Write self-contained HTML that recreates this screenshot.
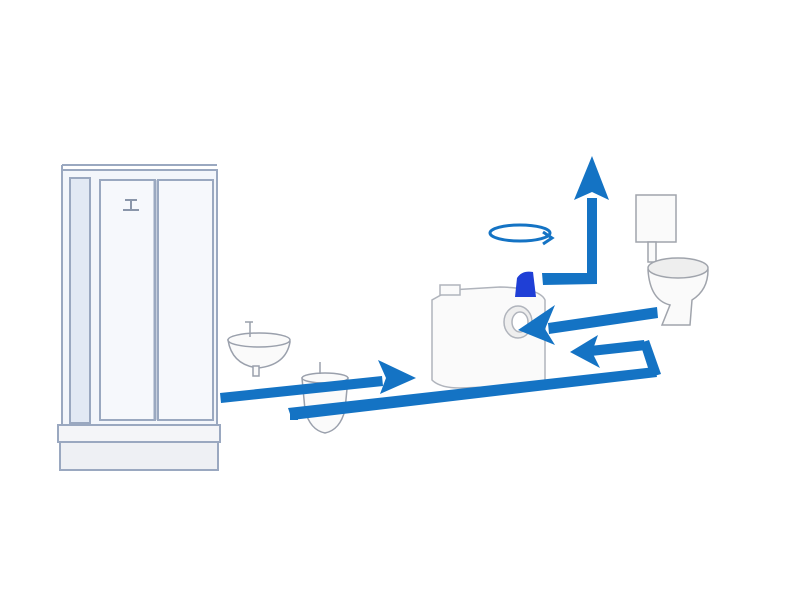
<!DOCTYPE html>
<html><head><style>body{margin:0;background:#fff}svg{display:block}</style></head><body>
<svg width="800" height="600" viewBox="0 0 800 600" xmlns="http://www.w3.org/2000/svg">
<rect width="800" height="600" fill="#fff"/>
<!-- shower -->
<g stroke="#9aa8c0" stroke-width="2" fill="none">
<path d="M60 440 L60 470 L218 470 L218 440 Z" fill="#eef0f4"/>
<path d="M58 425 L220 425 L220 442 L58 442 Z" fill="#f4f5f8"/>
<rect x="62" y="170" width="155" height="255" fill="#f3f6fb"/>
<rect x="70" y="178" width="20" height="245" fill="#e2e9f4"/>
<rect x="100" y="180" width="55" height="240" fill="#f6f8fc"/>
<rect x="158" y="180" width="55" height="240" fill="#f6f8fc"/>
<line x1="62" y1="165" x2="217" y2="165"/>
<line x1="62" y1="165" x2="62" y2="172"/>
<line x1="155" y1="180" x2="155" y2="420" stroke-width="3"/>
</g>
<path d="M125 200 h12 M131 200 v10 M123 210 h16" stroke="#8a96aa" stroke-width="2"/>
<!-- sink -->
<g stroke="#9aa0ac" stroke-width="1.5" fill="#fafafa">
<path d="M228 340 Q232 365 258 368 Q286 365 290 342 Z"/>
<ellipse cx="259" cy="340" rx="31" ry="7"/>
<path d="M250 322 v15 M245 322 h8"/>
<rect x="253" y="366" width="6" height="10"/>
</g>
<!-- bidet -->
<g stroke="#9aa0ac" stroke-width="1.5" fill="#fafafa">
<path d="M302 378 L348 378 L345 410 Q340 430 325 433 Q310 430 305 410 Z"/>
<ellipse cx="325" cy="378" rx="23" ry="5"/>
<path d="M320 362 v12"/>
</g>
<!-- macerator -->
<g stroke="#b0b4bc" stroke-width="1.5" fill="#fafafa">
<path d="M432 300 L432 380 Q440 388 460 388 L545 385 L545 300 Q540 288 500 287 L450 290 Z"/>
<rect x="440" y="285" width="20" height="10"/>
<ellipse cx="518" cy="322" rx="14" ry="16" fill="#eee"/>
<ellipse cx="520" cy="322" rx="8" ry="10" fill="#fff"/>
</g>
<path d="M515 297 L517 278 Q522 270 533 272 L536 297 Z" fill="#1f3fd6"/>
<!-- toilet -->
<g stroke="#a0a4ac" stroke-width="1.5" fill="#fafafa">
<rect x="636" y="195" width="40" height="47"/>
<rect x="648" y="242" width="8" height="20"/>
<path d="M648 270 Q650 300 670 305 L662 325 L690 325 L692 300 Q708 290 708 270 Z"/>
<ellipse cx="678" cy="268" rx="30" ry="10" fill="#eee"/>
</g>
<!-- arrows -->
<g fill="#1473c4" stroke="none">
<path d="M220 393 L382 376 L383 386 L221 403 Z"/>
<path d="M378 360 L416 378 L380 394 L386 378 Z"/>
<path d="M288 408 L655 367 L657 377 L292 420 Z"/>
<path d="M290 408 L298 408 L298 420 L290 420 Z"/>
<path d="M651 377 L640 343 L649 340 L661 374 Z"/>
<path d="M644 340 L590 346 L591 356 L646 350 Z"/>
<path d="M598 335 L570 352 L600 368 L592 352 Z"/>
<path d="M657 307 L548 323 L549 334 L658 318 Z"/>
<path d="M555 305 L518 330 L555 345 L545 329 Z"/>
<path d="M542 273 L597 273 L597 284 L543 285 Z"/>
<path d="M587 198 L597 198 L597 284 L587 284 Z"/>
<path d="M574 200 L592 156 L609 200 L592 192 Z"/>
</g>
<ellipse cx="520" cy="233" rx="30" ry="8" fill="none" stroke="#1473c4" stroke-width="3"/>
<path d="M543 232 L552 238 L543 244" fill="none" stroke="#1473c4" stroke-width="3"/>
</svg>
</body></html>
